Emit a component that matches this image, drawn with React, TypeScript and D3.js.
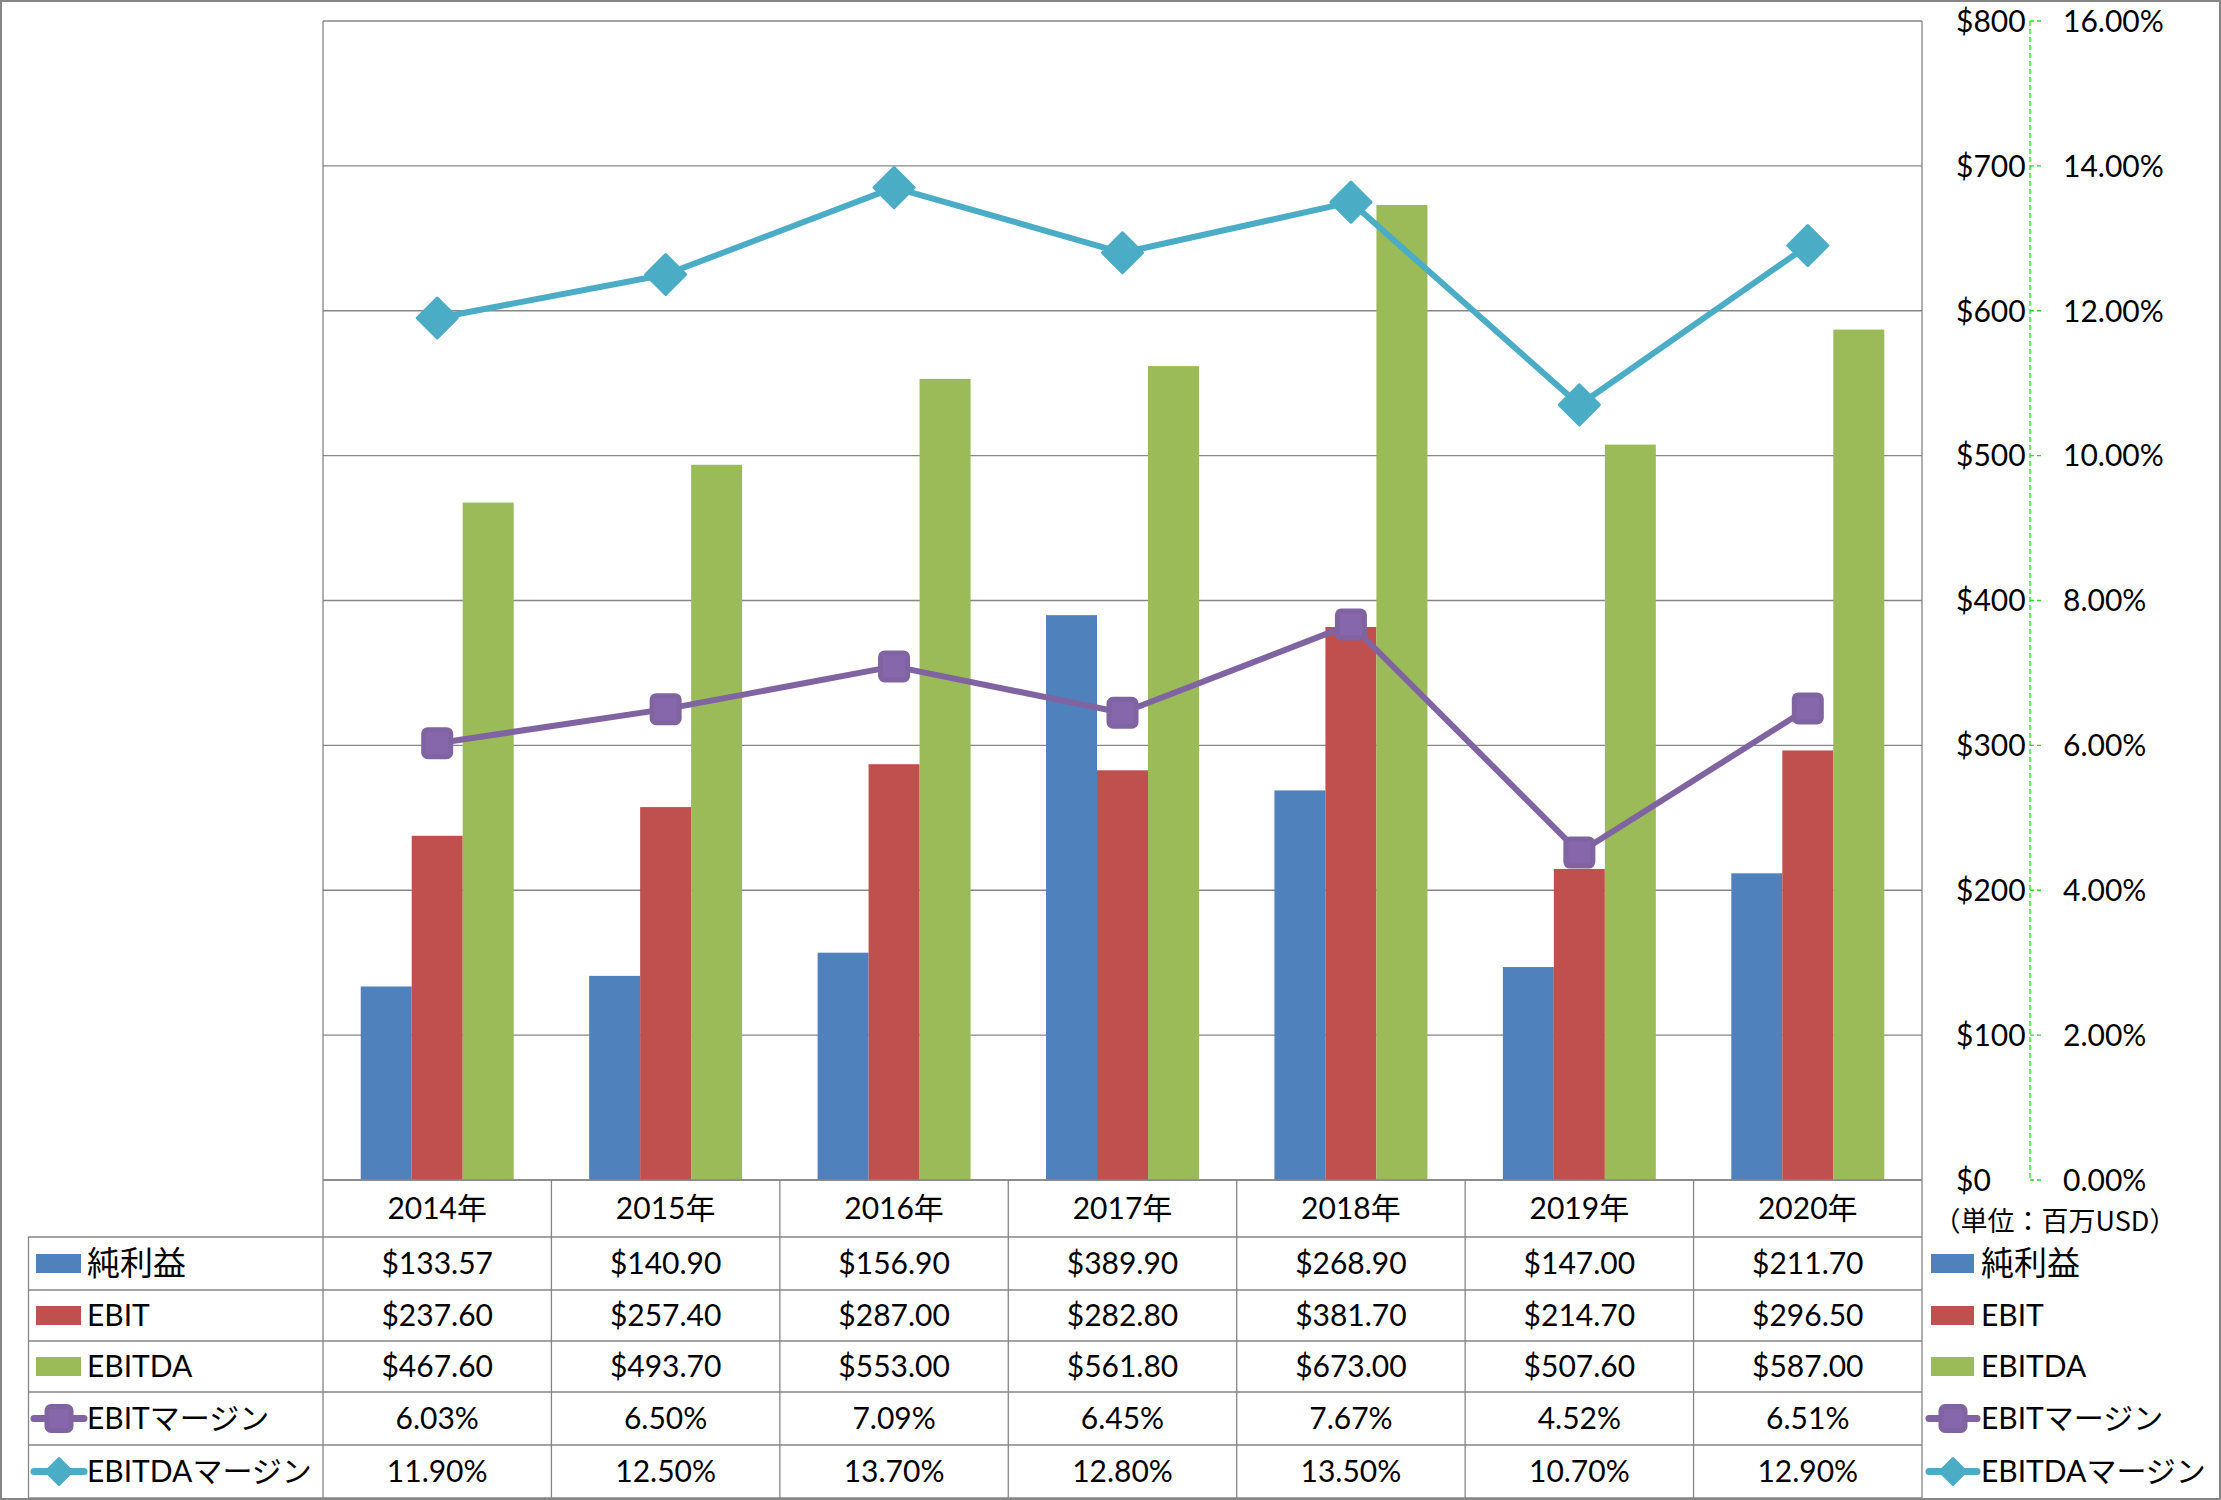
import React from "react";
import * as d3 from "d3";

const years = ["2014年", "2015年", "2016年", "2017年", "2018年", "2019年", "2020年"];
const netIncome = [133.57, 140.9, 156.9, 389.9, 268.9, 147.0, 211.7];
const ebit = [237.6, 257.4, 287.0, 282.8, 381.7, 214.7, 296.5];
const ebitda = [467.6, 493.7, 553.0, 561.8, 673.0, 507.6, 587.0];
const ebitMargin = [6.03, 6.5, 7.09, 6.45, 7.67, 4.52, 6.51];
const ebitdaMargin = [11.9, 12.5, 13.7, 12.8, 13.5, 10.7, 12.9];
const leftTicks = [0, 100, 200, 300, 400, 500, 600, 700, 800];
const rightTicks = [0, 2, 4, 6, 8, 10, 12, 14, 16];
const barSeries = ["純利益", "EBIT", "EBITDA"];
const lineSeries = ["EBITマージン", "EBITDAマージン"];
const unitLabel = "（単位：百万USD）";

const W = 2221;
const H = 1500;
const PL = 323;
const PR = 1922;
const PT = 21;
const PB = 1180;
const AXIS2X = 2030;
const FONT = "Lato, 'Noto Sans CJK JP', sans-serif";
const colors = {
  blue: "#4F81BD",
  red: "#C0504D",
  green: "#9BBB59",
  purple: "#8064A2",
  cyan: "#4BACC6",
  grid: "#868686",
};
const barColors = [colors.blue, colors.red, colors.green];
const rowLines = [1180, 1237, 1290, 1341, 1392, 1445, 1498];

function fmtMoney(v: number) {
  return "$" + v.toFixed(2);
}
function fmtPct(v: number) {
  return v.toFixed(2) + "%";
}

function Diamond({ cx, cy, d, fill }: { cx: number; cy: number; d: number; fill: string }) {
  const r = d / 2;
  return (
    <path
      d={`M${cx},${cy - r} L${cx + r},${cy} L${cx},${cy + r} L${cx - r},${cy} Z`}
      fill={fill}
      stroke={fill}
      strokeWidth={3}
      strokeLinejoin="round"
    />
  );
}

function Square({ cx, cy, s, fill }: { cx: number; cy: number; s: number; fill: string }) {
  return (
    <rect
      x={cx - s / 2}
      y={cy - s / 2}
      width={s}
      height={s}
      rx={4}
      fill="#8767AB"
      stroke={fill}
      strokeWidth={5}
    />
  );
}

export default function App() {
  const x0 = d3.scaleBand<string>().domain(years).range([PL, PR]).paddingInner(0).paddingOuter(0);
  const x1 = d3
    .scaleBand<string>()
    .domain(barSeries)
    .range([0, x0.bandwidth()])
    .paddingInner(0)
    .paddingOuter(0.74);
  const y = d3.scaleLinear().domain([0, 800]).range([PB, PT]);
  const y2 = d3.scaleLinear().domain([0, 16]).range([PB, PT]);
  const barData = [netIncome, ebit, ebitda];
  const cx = (yr: string) => (x0(yr) as number) + x0.bandwidth() / 2;

  const line = d3
    .line<number>()
    .x((_, i) => cx(years[i]))
    .y((d) => y2(d));

  const rowCenters = rowLines.slice(0, -1).map((v, i) => (v + rowLines[i + 1]) / 2);
  const fs = 30;
  const base = (c: number, f = fs) => c + 0.36 * f;

  const tableRows: string[][] = [
    netIncome.map(fmtMoney),
    ebit.map(fmtMoney),
    ebitda.map(fmtMoney),
    ebitMargin.map(fmtPct),
    ebitdaMargin.map(fmtPct),
  ];
  const rowNames = [...barSeries, ...lineSeries];

  const legendKey = (i: number, lx0: number, lx1: number, cy: number) => {
    if (i < 3) {
      return <rect x={lx0} y={cy - 9.5} width={lx1 - lx0} height={19} fill={barColors[i]} />;
    }
    const c = i === 3 ? colors.purple : colors.cyan;
    const mid = (lx0 + lx1) / 2;
    return (
      <g>
        <line x1={lx0} x2={lx1} y1={cy} y2={cy} stroke={c} strokeWidth={7} strokeLinecap="round" />
        {i === 3 ? <Square cx={mid} cy={cy} s={24} fill={c} /> : <Diamond cx={mid} cy={cy} d={26} fill={c} />}
      </g>
    );
  };

  return (
    <svg
      width={W}
      height={H}
      viewBox={`0 0 ${W} ${H}`}
      style={{ position: "absolute", left: 0, top: 0, display: "block", background: "#fff" }}
      fontFamily={FONT}
    >
      <rect x={0} y={0} width={W} height={H} fill="#fff" />
      {/* gridlines */}
      {leftTicks.map((t) => (
        <line key={t} x1={PL} x2={PR} y1={y(t)} y2={y(t)} stroke={colors.grid} strokeWidth={1.3} />
      ))}
      {/* plot area border */}
      <line x1={PL} x2={PL} y1={PT} y2={PB} stroke={colors.grid} strokeWidth={1.3} />
      <line x1={PR} x2={PR} y1={PT} y2={PB} stroke={colors.grid} strokeWidth={1.3} />

      {/* bars */}
      {barData.map((series, si) =>
        series.map((v, i) => (
          <rect
            key={`${si}-${i}`}
            x={(x0(years[i]) as number) + (x1(barSeries[si]) as number)}
            y={y(v)}
            width={x1.bandwidth()}
            height={PB - y(v)}
            fill={barColors[si]}
          />
        ))
      )}

      {/* lines */}
      <path d={line(ebitMargin) || ""} fill="none" stroke={colors.purple} strokeWidth={6} strokeLinejoin="round" />
      {ebitMargin.map((v, i) => (
        <Square key={i} cx={cx(years[i])} cy={y2(v)} s={27} fill={colors.purple} />
      ))}
      <path d={line(ebitdaMargin) || ""} fill="none" stroke={colors.cyan} strokeWidth={6} strokeLinejoin="round" />
      {ebitdaMargin.map((v, i) => (
        <Diamond key={i} cx={cx(years[i])} cy={y2(v)} d={40} fill={colors.cyan} />
      ))}

      {/* secondary axis */}
      <line x1={AXIS2X} x2={AXIS2X} y1={PT} y2={PB} stroke="#22dd22" strokeWidth={1.3} strokeDasharray="5,3" />
      {rightTicks.map((t) => (
        <line key={t} x1={AXIS2X} x2={AXIS2X + 11} y1={y2(t)} y2={y2(t)} stroke="#22dd22" strokeWidth={1.3} strokeDasharray="4,3" />
      ))}
      {leftTicks.map((t) => (
        <text key={t} x={1956} y={base(y(t))} fontSize={fs} fill="#000">
          {"$" + t}
        </text>
      ))}
      {rightTicks.map((t) => (
        <text key={t} x={2063} y={base(y2(t))} fontSize={fs} fill="#000">
          {t.toFixed(2) + "%"}
        </text>
      ))}
      <text x={2055} y={base(1221, 27)} fontSize={27} textAnchor="middle" fontFamily="'Noto Sans CJK JP', sans-serif" fill="#000">
        {unitLabel}
      </text>

      {/* data table */}
      {rowLines.map((ly, i) => (
        <line
          key={ly}
          x1={i === 0 ? PL : 28}
          x2={PR}
          y1={ly}
          y2={ly}
          stroke={colors.grid}
          strokeWidth={1.3}
        />
      ))}
      <line x1={28.5} x2={28.5} y1={1237} y2={1498} stroke={colors.grid} strokeWidth={1.3} />
      {years.map((yr) => (
        <line key={yr} x1={x0(yr) as number} x2={x0(yr) as number} y1={PB} y2={1498} stroke={colors.grid} strokeWidth={1.3} />
      ))}
      <line x1={PR} x2={PR} y1={PB} y2={1498} stroke={colors.grid} strokeWidth={1.3} />
      {years.map((yr) => (
        <text key={yr} x={cx(yr)} y={base(rowCenters[0])} fontSize={fs} textAnchor="middle" fill="#000">
          {yr}
        </text>
      ))}
      {tableRows.map((row, ri) =>
        row.map((val, ci) => (
          <text key={`${ri}-${ci}`} x={cx(years[ci])} y={base(rowCenters[ri + 1])} fontSize={fs} textAnchor="middle" fill="#000">
            {val}
          </text>
        ))
      )}
      {rowNames.map((name, i) => (
        <g key={name}>
          {legendKey(i, i < 3 ? 36 : 34, i < 3 ? 81 : 84, rowCenters[i + 1])}
          <text x={87} y={base(rowCenters[i + 1], i === 0 ? 33 : fs)} fontSize={i === 0 ? 33 : fs} fill="#000">
            {name}
          </text>
        </g>
      ))}

      {/* right legend */}
      {rowNames.map((name, i) => (
        <g key={"lg" + name}>
          {legendKey(i, i < 3 ? 1931 : 1929, i < 3 ? 1974 : 1977, rowCenters[i + 1])}
          <text x={1981} y={base(rowCenters[i + 1], i === 0 ? 33 : fs)} fontSize={i === 0 ? 33 : fs} fill="#000">
            {name}
          </text>
        </g>
      ))}

      {/* outer border */}
      <rect x={1} y={1} width={W - 2} height={H - 2} fill="none" stroke={colors.grid} strokeWidth={2} />
    </svg>
  );
}
